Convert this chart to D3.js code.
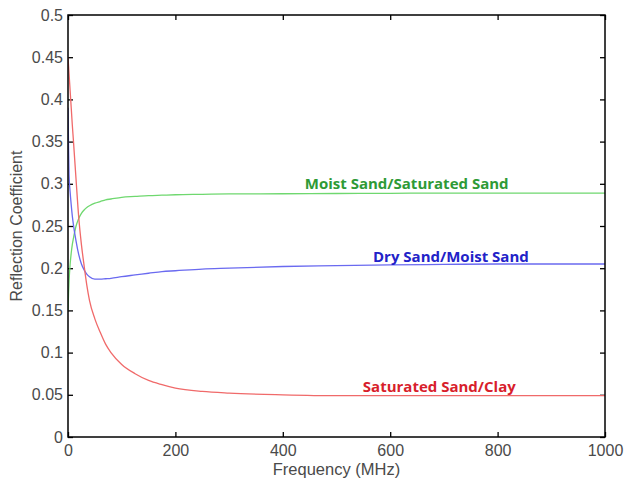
<!DOCTYPE html>
<html>
<head>
<meta charset="utf-8">
<script src="https://cdn.jsdelivr.net/npm/d3@7"></script>
<style>
  html, body { margin: 0; padding: 0; background: #fff; }
  svg { display: block; }
</style>
</head>
<body>
<svg id="chart" width="625" height="479"></svg>
<script>
// ---- data ----
const freq = [0,1,2,4,6,8,10,15,20,25,30,35,40,50,60,70,80,100,125,150,175,200,250,300,400,500,600,700,800,900,1000];
const drySandMoistSand = [0.39,0.345,0.31,0.29,0.275,0.262,0.252,0.232,0.216,0.205,0.198,0.193,0.19,0.187,0.187,0.1875,0.188,0.19,0.192,0.194,0.196,0.197,0.199,0.2,0.202,0.203,0.204,0.2045,0.205,0.205,0.205];
const moistSandSatSand = [0.15,0.17,0.185,0.205,0.218,0.228,0.235,0.25,0.259,0.265,0.269,0.272,0.274,0.277,0.279,0.281,0.282,0.284,0.285,0.286,0.2865,0.287,0.2875,0.288,0.2882,0.2885,0.2887,0.289,0.289,0.289,0.289];
const satSandClay = [0.45,0.44,0.43,0.41,0.39,0.37,0.352,0.305,0.26,0.228,0.203,0.18,0.162,0.14,0.124,0.11,0.1,0.086,0.075,0.067,0.062,0.058,0.054,0.052,0.05,0.049,0.049,0.049,0.049,0.049,0.049];
const seriesNames = ["Moist Sand/Saturated Sand", "Dry Sand/Moist Sand", "Saturated Sand/Clay"];
const labelFreq = [441, 568, 549];
const labelValue = [0.294, 0.2077, 0.0537];
const xTicks = [0,200,400,600,800,1000];
const yTicks = [0,0.05,0.1,0.15,0.2,0.25,0.3,0.35,0.4,0.45,0.5];
const xTitle = "Frequency (MHz)";
const yTitle = "Reflection Coefficient";

// ---- layout ----
const svg = d3.select("#chart");
const margin = {left: 68, top: 15, right: 20, bottom: 42};
const W = 625 - margin.left - margin.right;
const H = 479 - margin.top - margin.bottom;
const g = svg.append("g").attr("transform", `translate(${margin.left},${margin.top})`);

const x = d3.scaleLinear().domain([0, 1000]).range([0, W]);
const y = d3.scaleLinear().domain([0, 0.5]).range([H, 0]);

const fmt = d => d3.format("~g")(d);
const tickColor = "#4a4a4a";
const font = "'Liberation Sans', Arial, sans-serif";

// axes: inside ticks on all four sides
function styleAxis(sel, showLabels) {
  sel.select(".domain").remove();
  sel.selectAll(".tick line").attr("stroke", "#000").attr("stroke-width", 1.3);
  sel.selectAll(".tick text")
    .attr("fill", tickColor)
    .style("font-family", font)
    .style("font-size", "16px");
  if (!showLabels) sel.selectAll(".tick text").remove();
}

const xb = g.append("g").attr("transform", `translate(0,${H})`)
  .call(d3.axisBottom(x).tickValues(xTicks).tickSize(-5).tickPadding(8).tickFormat(fmt));
styleAxis(xb, true);
const xt = g.append("g")
  .call(d3.axisTop(x).tickValues(xTicks).tickSize(-5).tickFormat(fmt));
styleAxis(xt, false);
const yl = g.append("g")
  .call(d3.axisLeft(y).tickValues(yTicks).tickSize(-5).tickPadding(5).tickFormat(fmt));
styleAxis(yl, true);
const yr = g.append("g").attr("transform", `translate(${W},0)`)
  .call(d3.axisRight(y).tickValues(yTicks).tickSize(-5).tickFormat(fmt));
styleAxis(yr, false);

// lines
const defs = svg.append("defs");
defs.append("clipPath").attr("id", "clip").append("rect").attr("width", W).attr("height", H);

const series = [
  {values: moistSandSatSand, line: "#6fd86f", text: "#2e9a36"},
  {values: drySandMoistSand, line: "#6a6af0", text: "#2222c8"},
  {values: satSandClay, line: "#f06a6a", text: "#d81e2c"}
];

const lineGen = d3.line().curve(d3.curveMonotoneX);
series.forEach((s, i) => {
  const pts = freq.map((f, k) => [x(f), y(s.values[k])]);
  g.append("path")
    .attr("clip-path", "url(#clip)")
    .attr("d", lineGen(pts))
    .attr("fill", "none")
    .attr("stroke", s.line)
    .attr("stroke-width", 1.3);
  g.append("text")
    .attr("x", x(labelFreq[i]))
    .attr("y", y(labelValue[i]))
    .attr("fill", s.text)
    .style("font-family", "'Open Sans', Lato, sans-serif")
    .style("font-weight", "bold")
    .style("font-size", "15px")
    .text(seriesNames[i]);
});

// frame
g.append("rect").attr("width", W).attr("height", H)
  .attr("fill", "none").attr("stroke", "#000").attr("stroke-width", 1.5);

// titles
svg.append("text")
  .attr("x", margin.left + W / 2)
  .attr("y", 474.5)
  .attr("text-anchor", "middle")
  .attr("fill", tickColor)
  .style("font-family", font)
  .style("font-size", "16.5px")
  .text(xTitle);
svg.append("text")
  .attr("transform", `translate(22,226) rotate(-90)`)
  .attr("text-anchor", "middle")
  .attr("fill", tickColor)
  .style("font-family", font)
  .style("font-size", "16px")
  .text(yTitle);
</script>
</body>
</html>
